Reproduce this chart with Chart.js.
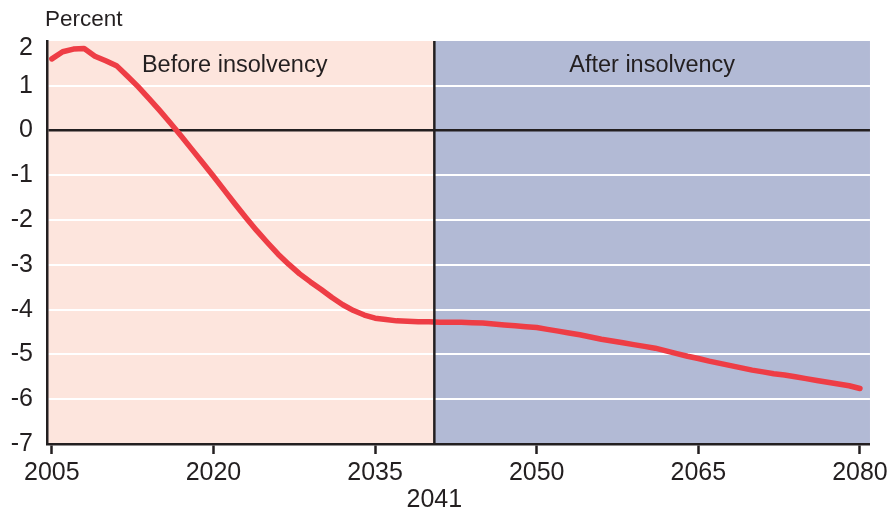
<!DOCTYPE html>
<html>
<head>
<meta charset="utf-8">
<title>Percent</title>
<script src="https://cdn.jsdelivr.net/npm/chart.js@4/dist/chart.umd.min.js"></script>
<style>
  html, body { margin: 0; padding: 0; background: #ffffff; }
  #wrap { width: 894px; height: 511px; position: relative; }
</style>
</head>
<body>
<div id="wrap"><canvas id="c" width="894" height="511"></canvas></div>
<script>
// Annual values, percent
const years = [];
for (let y = 2005; y <= 2080; y++) years.push(y);

const values = [
   1.60,  1.76,  1.82,  1.83,  1.66,  1.56,  1.45,  1.22,  0.98,  0.72,   // 2005-2014
   0.45,  0.17, -0.12, -0.42, -0.72, -1.02, -1.33, -1.64, -1.94, -2.23,   // 2015-2024
  -2.50, -2.76, -2.99, -3.20, -3.38, -3.55, -3.73, -3.89, -4.02, -4.12,   // 2025-2034
  -4.19, -4.22, -4.25, -4.26, -4.27, -4.27, -4.28, -4.28, -4.28, -4.29,   // 2035-2044
  -4.30, -4.32, -4.34, -4.36, -4.38, -4.40, -4.44, -4.48, -4.52, -4.56,   // 2045-2054
  -4.61, -4.66, -4.70, -4.74, -4.78, -4.82, -4.86, -4.92, -4.98, -5.04,   // 2055-2064
  -5.09, -5.15, -5.20, -5.25, -5.30, -5.35, -5.39, -5.43, -5.46, -5.50,   // 2065-2074
  -5.54, -5.58, -5.62, -5.66, -5.70, -5.76                                // 2075-2080
];

const xTickYears = [2005, 2020, 2035, 2050, 2065, 2080];
const yTickValues = [2, 1, 0, -1, -2, -3, -4, -5, -6, -7];
const insolvencyYear = 2041;
const regionLabels = ['Before insolvency', 'After insolvency'];
const yAxisTitle = 'Percent';

// the insolvency boundary sits at the start of the insolvency year
const boundary = insolvencyYear - 0.5;
const yTop = 2;

const INK = '#231f20';
const FONT = "'Liberation Sans', Arial, Helvetica, sans-serif";

const regionsPlugin = {
  id: 'regions',
  beforeDraw(chart) {
    const { ctx, chartArea: a, scales } = chart;
    const bx = scales.x.getPixelForValue(boundary);
    ctx.save();
    ctx.fillStyle = '#fde5dd';
    ctx.fillRect(a.left, a.top, bx - a.left, a.bottom - a.top);
    ctx.fillStyle = '#b2bad5';
    ctx.fillRect(bx, a.top, a.right - bx, a.bottom - a.top);
    ctx.restore();
  },
  afterDatasetsDraw(chart) {
    const { ctx, chartArea: a, scales } = chart;
    const bx = scales.x.getPixelForValue(boundary);
    ctx.save();
    ctx.strokeStyle = INK;
    ctx.lineWidth = 2.5;
    ctx.beginPath();
    ctx.moveTo(bx, a.top);
    ctx.lineTo(bx, a.bottom);
    ctx.stroke();

    ctx.fillStyle = INK;
    ctx.font = '23.5px ' + FONT;
    ctx.textAlign = 'center';
    ctx.textBaseline = 'alphabetic';
    ctx.fillText(regionLabels[0], (a.left + bx) / 2 - 6, 72);
    ctx.fillText(regionLabels[1], (bx + a.right) / 2, 72);

    ctx.textAlign = 'left';
    ctx.font = '22.5px ' + FONT;
    ctx.fillText(yAxisTitle, 45, 26);
    ctx.restore();
  }
};

new Chart(document.getElementById('c'), {
  type: 'line',
  data: {
    datasets: [{
      data: years.map((y, i) => ({ x: y, y: values[i] })),
      borderColor: '#ee3d45',
      borderWidth: 5.5,
      pointRadius: 0,
      tension: 0,
      borderCapStyle: 'round',
      borderJoinStyle: 'round'
    }]
  },
  options: {
    responsive: false,
    animation: false,
    devicePixelRatio: 1,
    layout: { padding: { top: 41, right: 20, left: 0, bottom: 0 } },
    plugins: { legend: { display: false }, tooltip: { enabled: false } },
    scales: {
      x: {
        type: 'linear',
        min: 2004.55,
        max: 2080.93,
        afterBuildTicks(scale) {
          const t = xTickYears.concat([boundary]).sort((p, q) => p - q);
          scale.ticks = t.map(v => ({ value: v }));
        },
        afterFit(scale) { scale.height = 67; },
        border: { display: true, color: INK, width: 2.5 },
        grid: {
          drawOnChartArea: false,
          drawTicks: true,
          tickLength: 10,
          tickWidth: 2.5,
          tickColor: (c) => (c.tick && c.tick.value === boundary) ? 'rgba(0,0,0,0)' : INK
        },
        ticks: {
          autoSkip: false,
          maxRotation: 0,
          padding: 6,
          color: INK,
          font: { family: FONT, size: 25, lineHeight: 1.08 },
          callback: (v) => v === boundary ? ['', String(insolvencyYear)] : String(v)
        }
      },
      y: {
        type: 'linear',
        min: -7,
        max: yTop,
        afterBuildTicks(scale) {
          scale.ticks = yTickValues.map(v => ({ value: v }));
        },
        afterFit(scale) { scale.width = 47; },
        border: { display: true, color: INK, width: 2.5 },
        grid: {
          drawTicks: false,
          color: (c) => {
            const v = c.tick ? c.tick.value : null;
            if (v === 0) return INK;
            if (v === 2 || v === -7) return 'rgba(0,0,0,0)';
            return '#ffffff';
          },
          lineWidth: (c) => (c.tick && c.tick.value === 0) ? 2.5 : 2
        },
        ticks: {
          padding: 14,
          color: INK,
          // the top label is nudged below the plot's upper edge
          font: (c) => ({ family: FONT, size: 25, lineHeight: (c.tick && c.tick.value === yTop) ? 0.56 : 1.2 }),
          callback: (v) => v === yTop ? ['', String(v)] : String(v)
        }
      }
    }
  },
  plugins: [regionsPlugin]
});
</script>
</body>
</html>
